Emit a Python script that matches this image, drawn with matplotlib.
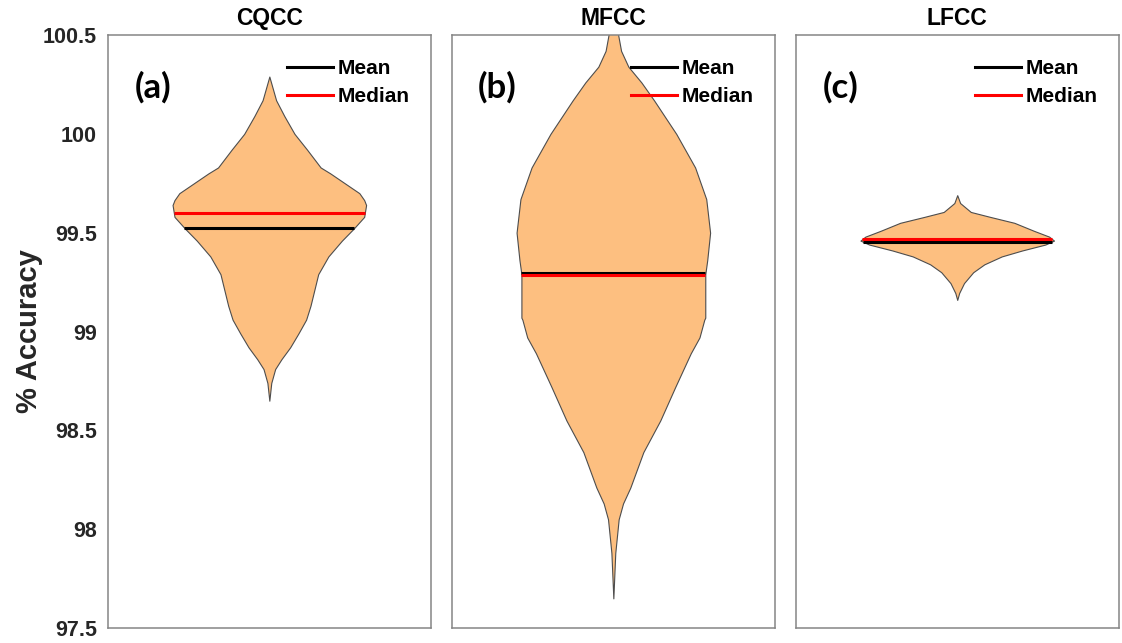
import numpy as np
import matplotlib.pyplot as plt
from matplotlib.lines import Line2D
from matplotlib.ticker import FormatStrFormatter

# accuracy values (%) along each violin outline and the relative half-width there
features = ['CQCC', 'MFCC', 'LFCC']
panel_tags = ['(a)', '(b)', '(c)']

cqcc_acc = [100.29, 100.17, 100.09, 100.00, 99.92, 99.83, 99.80, 99.77, 99.73, 99.70,
            99.665, 99.64, 99.58, 99.52, 99.46, 99.38, 99.29, 99.21, 99.13, 99.06,
            98.99, 98.92, 98.86, 98.81, 98.74, 98.65]
cqcc_dens = [0.0, 0.07, 0.155, 0.26, 0.39, 0.53, 0.63, 0.72, 0.84, 0.93,
             0.98, 1.0, 0.98, 0.87, 0.75, 0.61, 0.505, 0.465, 0.425, 0.38,
             0.30, 0.215, 0.125, 0.06, 0.02, 0.0]

mfcc_acc = [100.56, 100.50, 100.42, 100.34, 100.26, 100.17, 100.00, 99.83, 99.67, 99.50,
            99.36, 99.29, 99.07, 99.06, 98.97, 98.89, 98.72, 98.55, 98.39, 98.21,
            98.13, 98.05, 97.88, 97.65]
mfcc_dens = [0.0, 0.05, 0.08, 0.155, 0.29, 0.42, 0.65, 0.845, 0.96, 1.0,
             0.97, 0.95, 0.95, 0.94, 0.89, 0.80, 0.64, 0.485, 0.31, 0.175,
             0.10, 0.055, 0.02, 0.0]

lfcc_acc = [99.69, 99.65, 99.605, 99.58, 99.55, 99.51, 99.48, 99.46, 99.44, 99.41,
            99.38, 99.34, 99.30, 99.245, 99.195, 99.16]
lfcc_dens = [0.0, 0.03, 0.14, 0.34, 0.59, 0.79, 0.95, 1.0, 0.91, 0.67,
             0.46, 0.28, 0.165, 0.07, 0.02, 0.0]

acc_mean = [99.525, 99.295, 99.455]
acc_median = [99.60, 99.285, 99.468]

profiles = [(cqcc_acc, cqcc_dens), (mfcc_acc, mfcc_dens), (lfcc_acc, lfcc_dens)]

fill_col = '#FDBF80'
half_w = 0.30

fig = plt.figure(figsize=(11.22, 6.43), dpi=100)
lefts = [0.0963, 0.4029, 0.7094]
axes = [fig.add_axes([l, 0.0233, 0.2875, 0.9222]) for l in lefts]

for i, ax in enumerate(axes):
    acc, dens = profiles[i]
    acc = np.array(acc)
    w = np.array(dens) * half_w
    ax.fill_betweenx(acc, 1 - w, 1 + w, facecolor=fill_col, edgecolor='#4d4d4d', linewidth=0.8)

    # mean / median bars span the violin at their level
    order = np.argsort(acc)
    for val, col in [(acc_mean[i], 'black'), (acc_median[i], 'red')]:
        wv = np.interp(val, acc[order], w[order])
        ax.plot([1 - wv, 1 + wv], [val, val], color=col, lw=2.2, solid_capstyle='butt')

    ax.set_xlim(0.5, 1.5)
    ax.set_ylim(97.5, 100.5)
    ax.set_xticks([])
    ax.set_yticks(np.arange(97.5, 100.51, 0.5))
    ax.yaxis.set_major_formatter(FormatStrFormatter('%g'))
    ax.tick_params(axis='y', length=0, pad=8, labelsize=15.5, labelcolor='#262626')
    for lab in ax.get_yticklabels():
        lab.set_fontweight('bold')
        lab.set_fontfamily('Liberation Sans')
    if i > 0:
        ax.set_yticklabels([])
    for sp in ax.spines.values():
        sp.set_color('#858585')
        sp.set_linewidth(1.1)

    ax.set_title(features[i], fontsize=16.5, fontweight='bold', family='Liberation Sans', pad=7)
    ax.text(0.14, 0.912, panel_tags[i], transform=ax.transAxes, ha='center', va='center',
            fontsize=25, fontweight='bold', family='Lato')

    handles = [Line2D([], [], color='black', lw=2.2), Line2D([], [], color='red', lw=2.2)]
    ax.legend(handles, ['Mean', 'Median'], loc='upper left', bbox_to_anchor=(0.522, 0.977),
              frameon=False, borderpad=0, handlelength=2.2, handletextpad=0.25,
              labelspacing=0.42, prop={'family': 'Liberation Sans', 'weight': 'bold', 'size': 15})

axes[0].set_ylabel('% Accuracy', fontsize=21, fontweight='bold', family='Liberation Sans',
                   color='#262626', labelpad=0)

fig.savefig('out.png', dpi=100)
